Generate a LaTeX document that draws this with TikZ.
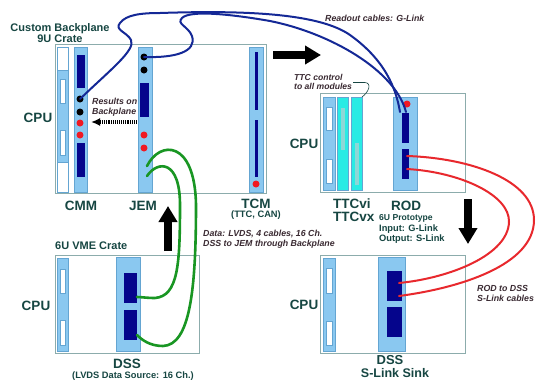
\documentclass[tikz,border=0pt]{standalone}
\usepackage{fontspec}
\setmainfont{Liberation Sans}
\usetikzlibrary{arrows.meta, positioning, fit}

\definecolor{labc}{RGB}{22,70,66}
\definecolor{notec}{RGB}{58,42,50}
\definecolor{cratec}{RGB}{140,172,172}
\definecolor{slotc}{RGB}{138,200,240}
\definecolor{slotln}{RGB}{100,165,210}
\definecolor{cardc}{RGB}{5,5,140}
\definecolor{ttcc}{RGB}{40,235,228}
\definecolor{ttcin}{RGB}{140,215,215}
\definecolor{ledc}{RGB}{240,25,35}
\definecolor{glink}{RGB}{20,40,150}
\definecolor{lvds}{RGB}{25,150,35}
\definecolor{slink}{RGB}{232,40,45}

\begin{document}
\begin{tikzpicture}[x=1pt, y=-1pt,
  crate/.style={draw=cratec, line width=0.9pt},
  box/.style={inner sep=0pt, outer sep=0pt},
  slot/.style={box, fill=slotc, draw=slotln, line width=0.5pt},
  ttcslot/.style={box, fill=ttcc, draw=slotln, line width=0.5pt},
  hole/.style={box, fill=white, draw=slotln, line width=0.4pt},
  card/.style={box, fill=cardc},
  led/.style={circle, fill=ledc, inner sep=0pt, minimum size=7pt},
  plug/.style={circle, fill=black, inner sep=0pt, minimum size=7pt},
  lab/.style={font=\bfseries\fontsize{13.5}{14}\selectfont, text=labc, inner sep=0pt},
  sub/.style={font=\bfseries\fontsize{9.3}{11}\selectfont, text=labc, inner sep=0pt},
  note/.style={font=\bfseries\itshape\fontsize{8.8}{10.5}\selectfont, text=notec, inner sep=0pt, align=left},
  cable/.style={line width=2pt, line cap=round},
  bigarrow/.style={line width=8pt, -{Triangle[length=16pt, width=18pt]}},
]
\useasboundingbox (0,0) rectangle (536,381);
\fill[white] (0,0) rectangle (536,381);

% 9U crate, custom backplane
\draw[crate] (55,44) rectangle (266,193);
\node[hole, fit={(57,47) (68,192)}] (cpua) {};
\node[slot, fit={(57,70) (68,162)}] (cpuab) {};
\node[hole, fit={(60,79) (65,103)}] {};
\node[hole, fit={(60,130) (65,155)}] {};
\node[slot, fit={(74,47) (87,192)}] (cmm) {};
\node[card, fit={(77,55) (85,88)}] (cmm1) {};
\node[card, fit={(77,143) (85,177)}] (cmm2) {};
\node[plug] (cmmp1) at (80,99) {};
\node[plug] (cmmp2) at (80,112) {};
\node[led] at (80,123) {};
\node[led] at (80,135) {};
\node[slot, fit={(138,47) (152,192)}] (jem) {};
\node[plug] (jemp1) at (144,57) {};
\node[plug] (jemp2) at (144,70) {};
\node[card, fit={(140,83) (149,117)}] (jem1) {};
\node[led] at (144,135) {};
\node[led] at (144,148) {};
\node[slot, fit={(249,47) (263,192)}] (tcm) {};
\node[card, fit={(254.8,52) (257.6,110)}] {};
\node[card, fit={(254.8,120) (257.6,177)}] {};
\node[led] at (256,184) {};

% 6U VME crate with the data source
\draw[crate] (55,255) rectangle (199,353);
\node[slot, fit={(57,258) (68,351)}] (cpub) {};
\node[hole, fit={(60,269) (65,293)}] {};
\node[hole, fit={(60,320) (65,345)}] {};
\node[slot, fit={(116,257) (140,351)}] (dssa) {};
\node[card, fit={(124,273) (137,303)}] (dssa1) {};
\node[card, fit={(124,310) (137,340)}] (dssa2) {};

% ROD crate
\draw[crate] (320,93) rectangle (465,192);
\node[slot, fit={(323,97) (335,190)}] (cpuc) {};
\node[hole, fit={(326,107) (332,130)}] {};
\node[hole, fit={(326,159) (332,183)}] {};
\node[ttcslot, fit={(337,97) (348,190)}] (ttcvi) {};
\node[box, fill=ttcin, fit={(341,108) (345,150)}] {};
\node[ttcslot, fit={(351,97) (362,190)}] (ttcvx) {};
\node[box, fill=ttcin, fit={(355,143) (359,185)}] {};
\node[slot, fit={(393,97) (417,190)}] (rod) {};
\node[led] at (407,104) {};
\node[card, fit={(402,113) (409,143)}] (rod1) {};
\node[card, fit={(402,149) (409,179)}] (rod2) {};

% S-Link sink crate
\draw[crate] (320,255) rectangle (465,353);
\node[slot, fit={(323,258) (335,351)}] (cpud) {};
\node[hole, fit={(326,268) (332,293)}] {};
\node[hole, fit={(326,321) (332,345)}] {};
\node[slot, fit={(378,257) (405,351)}] (dssb) {};
\node[card, fit={(387,271) (402,301)}] (dssb1) {};
\node[card, fit={(387,307) (402,337)}] (dssb2) {};

% cable ends
\coordinate (rodin1) at (400,112);
\coordinate (rodin2) at (406,112);
\coordinate (jemin1) at (147,166);
\coordinate (jemin2) at (147,176);
\coordinate (dssin1) at (137,297);
\coordinate (dssin2) at (137,335);
\coordinate (rodout1) at (407,156);
\coordinate (rodout2) at (407,169);
\coordinate (sinkin1) at (399,283);
\coordinate (sinkin2) at (399,296);

% G-Link readout
\draw[cable, glink] (cmmp1.center) .. controls (110,70) and (136,50) .. (131,40)
  .. controls (127,32) and (114,30) .. (120,23) .. controls (126,15) and (140,13) .. (160,13)
  .. controls (250,10) and (320,14) .. (350,35) .. controls (385,60) and (396,88) .. (rodin1);
\draw[cable, glink] (jemp1.center) .. controls (175,58) and (197,52) .. (192,36)
  .. controls (188,26) and (176,24) .. (182,18) .. controls (190,10) and (230,14) .. (270,21)
  .. controls (330,33) and (395,70) .. (rodin2);

% LVDS data
\draw[cable, lvds, line width=2.6pt] (jemin1) .. controls (160,140) and (195,140) .. (196,205)
  .. controls (196,290) and (190,345) .. (163,346) .. controls (150,346) and (142,340) .. (dssin2);
\draw[cable, lvds, line width=2.6pt] (jemin2) .. controls (158,160) and (180,160) .. (180,205)
  .. controls (180,265) and (178,296) .. (155,298) .. controls (147,298) and (141,297) .. (dssin1);

% S-Link out
\draw[cable, slink] (rodout1) .. controls (470,158) and (534,180) .. (534,220)
  .. controls (534,265) and (460,288) .. (sinkin2);
\draw[cable, slink] (rodout2) .. controls (460,172) and (510,195) .. (509,222)
  .. controls (508,255) and (450,278) .. (sinkin1);

% flow arrows
\coordinate (ra) at (273,55);  \coordinate (rb) at (321,55);
\coordinate (ua) at (168,251); \coordinate (ub) at (168,206);
\coordinate (da) at (468,199); \coordinate (db) at (468,244);
\draw[bigarrow] (ra) -- (rb);
\draw[bigarrow] (ua) -- (ub);
\draw[bigarrow] (da) -- (db);

% backplane results
\coordinate (bpa) at (137,122);
\coordinate (bpb) at (91,122);
\draw[line width=3.2pt, dash pattern=on 1pt off 0.9pt, -{Latex[length=9pt, width=8pt]}] (bpa) -- (bpb);

% labels
\node[font=\bfseries\fontsize{11}{10.5}\selectfont, text=labc, align=center] at (60,33) {Custom Backplane\\9U Crate};
\node[lab] at (38,118) {CPU};
\node[lab] at (36,306) {CPU};
\node[lab] at (304,144) {CPU};
\node[lab] at (304,305) {CPU};
\node[lab] at (81,206) {CMM};
\node[lab] at (143,206) {JEM};
\node[lab] at (256,204) {TCM};
\node[sub] at (256,215.5) {(TTC, CAN)};
\node[font=\bfseries\fontsize{11}{12}\selectfont, text=labc, anchor=west, inner sep=0pt] at (55,246) {6U VME Crate};
\node[lab] at (127,364) {DSS};
\node[sub] at (133,376) {(LVDS Data Source: 16 Ch.)};
\node[lab, font=\bfseries\fontsize{13}{14}\selectfont] at (390,360.5) {DSS};
\node[lab, font=\bfseries\fontsize{12.5}{14}\selectfont] at (395,373) {S-Link Sink};
\node[lab, anchor=west] at (333,204) {TTCvi};
\node[lab, anchor=west] at (333,217) {TTCvx};
\node[lab] at (406,206) {ROD};
\node[sub, font=\bfseries\fontsize{8.6}{10}\selectfont, anchor=west] at (379,218) {6U Prototype};
\node[sub, anchor=west] at (379,229) {Input: G-Link};
\node[sub, anchor=west] at (379,239.5) {Output: S-Link};

\node[note, anchor=west] at (92,107) {Results on\\Backplane};
\node[note, anchor=west] at (203,239) {Data: LVDS, 4 cables, 16 Ch.\\DSS to JEM through Backplane};
\node[note, anchor=west] at (325,18) {Readout cables: G-Link};
\node[note, anchor=west, font=\bfseries\itshape\fontsize{8.6}{9}\selectfont] at (294,82) {TTC control\\to all modules};
\node[note, anchor=west] at (477,293.5) {ROD to DSS\\S-Link cables};

% TTC fan-out
\coordinate (ttcnote) at (353,82.5);
\draw[labc, line width=0.6pt] (ttcnote) -- (365,82.5) .. controls (372,83) and (369,92) .. (ttcvx.north east);
\end{tikzpicture}
\end{document}
